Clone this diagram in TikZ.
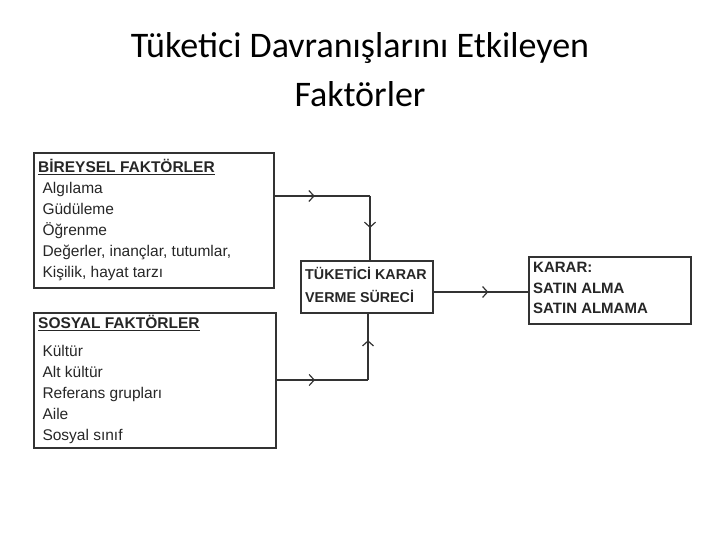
\documentclass[tikz,border=0pt]{standalone}
\usepackage{fontspec}
\setmainfont{Carlito}
\newfontfamily\arialf{Liberation Sans}
\usetikzlibrary{arrows.meta,decorations.markings}
\begin{document}
\begin{tikzpicture}[x=1pt,y=-1pt,
  box/.style={draw=black!80,line width=1.6pt,rectangle,inner sep=0pt,anchor=north west},
  lbl/.style={anchor=north west,align=left,inner sep=0pt,font=\arialf\fontsize{15.5}{21}\selectfont,text=black!85},
  conn/.style={draw=black!80,line width=1.4pt},
  mk/.style={postaction={decorate},decoration={markings,mark=at position #1 with {\arrow{Straight Barb[length=5pt,width=11pt,line width=1.2pt]}}}}]
\useasboundingbox (0,0) rectangle (720,540);
\node[font=\fontsize{36}{49}\selectfont,align=center] (title) at (360,70) {Tüketici Davranışlarını Etkileyen\\Faktörler};
\node[box,minimum width=240pt,minimum height=135pt] (b) at (33,152) {};
\node[box,minimum width=242pt,minimum height=135pt] (s) at (33,312) {};
\node[box,minimum width=132pt,minimum height=52pt] (c) at (300,260) {};
\node[box,minimum width=162pt,minimum height=67pt] (k) at (528,256) {};
\node[lbl] (bt) at (38,159) {\textbf{\underline{BİREYSEL FAKTÖRLER}}\\
 \ Algılama\\ \ Güdüleme\\ \ Öğrenme\\ \ Değerler, inançlar, tutumlar,\\ \ Kişilik, hayat tarzı};
\node[lbl] (st) at (38,315) {\textbf{\underline{SOSYAL FAKTÖRLER}}\\[7pt]
 \ Kültür\\ \ Alt kültür\\ \ Referans grupları\\ \ Aile\\ \ Sosyal sınıf};
\node[lbl,font=\arialf\bfseries\fontsize{14.3}{23}\selectfont] (ct) at (305,267) {TÜKETİCİ KARAR\\VERME SÜRECİ};
\node[lbl,font=\arialf\bfseries\fontsize{15}{20.5}\selectfont] (kt) at (533,262) {KARAR:\\SATIN ALMA\\SATIN ALMAMA};
\coordinate (bj) at (370,196);
\coordinate (sj) at (368,380);
\draw[conn,mk=0.42] (b.east |- bj) -- (bj);
\draw[conn,mk=0.5] (bj) -- (bj |- c.north);
\draw[conn,mk=0.42] (s.east |- sj) -- (sj);
\draw[conn,mk=0.6] (sj) -- (sj |- c.south);
\draw[conn,mk=0.58] (c.east |- 0,292) -- (k.west |- 0,292);
\end{tikzpicture}
\end{document}
